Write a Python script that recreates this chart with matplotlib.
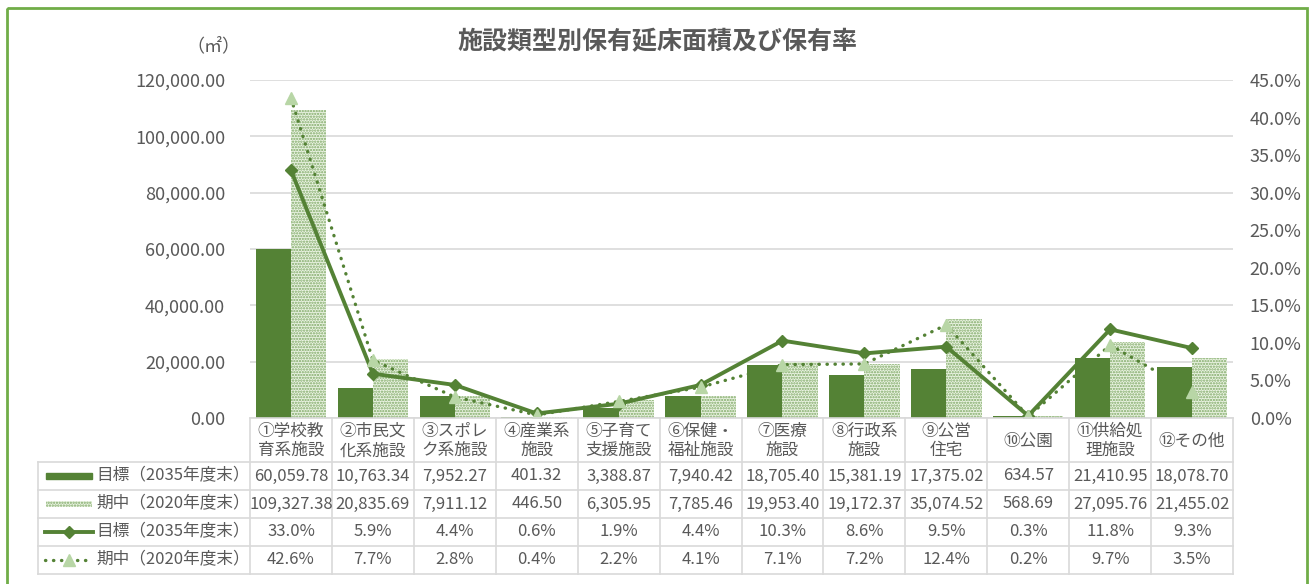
import numpy as np
import matplotlib
matplotlib.use("Agg")
import matplotlib.pyplot as plt
from matplotlib.patches import Rectangle
from matplotlib.lines import Line2D
from matplotlib.ticker import FuncFormatter, MultipleLocator

plt.rcParams['font.family'] = ['Noto Sans CJK JP', 'DejaVu Sans']
plt.rcParams['hatch.linewidth'] = 1.1

# data
categories = ["①学校教\n育系施設", "②市民文\n化系施設", "③スポレ\nク系施設", "④産業系\n施設",
              "⑤子育て\n支援施設", "⑥保健・\n福祉施設", "⑦医療\n施設", "⑧行政系\n施設",
              "⑨公営\n住宅", "⑩公園", "⑪供給処\n理施設", "⑫その他"]
target_area = [60059.78, 10763.34, 7952.27, 401.32, 3388.87, 7940.42,
               18705.40, 15381.19, 17375.02, 634.57, 21410.95, 18078.70]
mid_area = [109327.38, 20835.69, 7911.12, 446.50, 6305.95, 7785.46,
            19953.40, 19172.37, 35074.52, 568.69, 27095.76, 21455.02]
target_rate = [33.0, 5.9, 4.4, 0.6, 1.9, 4.4, 10.3, 8.6, 9.5, 0.3, 11.8, 9.3]
mid_rate = [42.6, 7.7, 2.8, 0.4, 2.2, 4.1, 7.1, 7.2, 12.4, 0.2, 9.7, 3.5]
series_names = ["目標（2035年度末）", "期中（2020年度末）"]

dark = "#548235"
light_face = "#eaf3e2"
light_hatch = "#7ea865"
tri_col = "#b8d6a6"
txt = "#595959"
grid = "#d9d9d9"

W, H = 1313, 584
fig = plt.figure(figsize=(W / 100, H / 100), dpi=100)

# plot area in pixels
left, right, top, bottom = 250, 1233, 80, 418
ax = fig.add_axes([left / W, 1 - bottom / H, (right - left) / W, (bottom - top) / H])
ax.patch.set_alpha(0)

x = np.arange(len(categories))
bw = 0.43
ax.bar(x - bw / 2, target_area, bw, color=dark, zorder=2)
ax.bar(x + bw / 2, mid_area, bw, facecolor=light_face, edgecolor=light_hatch,
       hatch="......", linewidth=0, zorder=2)
ax.set_xlim(-0.5, len(categories) - 0.5)
ax.set_ylim(0, 120000)
ax.yaxis.set_major_locator(MultipleLocator(20000))
ax.yaxis.set_major_formatter(FuncFormatter(lambda v, p: f"{v:,.2f}"))
ax.yaxis.grid(True, color=grid, lw=1.2, zorder=0)
ax.set_xticks([])
for s in ax.spines.values():
    s.set_visible(False)
ax.tick_params(axis="y", length=0, pad=18, labelsize=13, labelcolor=txt)

ax2 = ax.twinx()
ax2.plot(x, target_rate, color=dark, lw=2.8, marker="D", ms=6, mfc=dark, mec=dark, zorder=3)
ax2.plot(x, mid_rate, color=dark, lw=2.4, ls=(0, (0.1, 2.3)), dash_capstyle="round",
         marker="^", ms=9, mfc=tri_col, mec=tri_col, zorder=3)
ax2.set_ylim(0, 45)
ax2.yaxis.set_major_locator(MultipleLocator(5))
ax2.yaxis.set_major_formatter(FuncFormatter(lambda v, p: f"{v:.1f}%"))
for s in ax2.spines.values():
    s.set_visible(False)
ax2.tick_params(axis="y", length=0, pad=12, labelsize=13, labelcolor=txt)

# overlay in pixel coordinates: border, title, data table
ov = fig.add_axes([0, 0, 1, 1])
ov.set_xlim(0, W)
ov.set_ylim(H, 0)
ov.axis("off")
ov.patch.set_alpha(0)

ov.add_patch(Rectangle((7, 8), 1300, 590, fill=False, edgecolor="#70ad47", lw=2))
ov.text(657, 42, "施設類型別保有延床面積及び保有率", ha="center", va="center",
        fontsize=18, fontweight="bold", color=txt)
ov.text(213, 46, "（㎡）", ha="center", va="center", fontsize=13, color=txt)

cols = np.linspace(left, right, len(categories) + 1)
row_edges = [462, 490, 518, 546, 574]
tab_left = 38

# grid lines of the table
ov.plot([left, right], [bottom, bottom], color=grid, lw=1.2)
for ry in row_edges:
    ov.plot([tab_left, right], [ry, ry], color=grid, lw=1.2)
for cx in cols:
    ov.plot([cx, cx], [bottom, row_edges[-1]], color=grid, lw=1.2)
ov.plot([tab_left, tab_left], [row_edges[0], row_edges[-1]], color=grid, lw=1.2)

# header
for i, c in enumerate(categories):
    ov.text((cols[i] + cols[i + 1]) / 2, (bottom + row_edges[0]) / 2 + 1, c,
            ha="center", va="center", fontsize=12, color=txt, linespacing=1.2)

rows = [[f"{v:,.2f}" for v in target_area],
        [f"{v:,.2f}" for v in mid_area],
        [f"{v:.1f}%" for v in target_rate],
        [f"{v:.1f}%" for v in mid_rate]]
labels = [series_names[0], series_names[1], series_names[0], series_names[1]]

for r, vals in enumerate(rows):
    cy = (row_edges[r] + row_edges[r + 1]) / 2
    for i, t in enumerate(vals):
        ov.text((cols[i] + cols[i + 1]) / 2, cy, t, ha="center", va="center",
                fontsize=12, color=txt)
    ov.text(96, cy, labels[r], ha="left", va="center", fontsize=12, color=txt)

# legend keys inside the row labels
cy = [(row_edges[r] + row_edges[r + 1]) / 2 for r in range(4)]
ov.add_patch(Rectangle((46, cy[0] - 3), 46, 6, color=dark))
ov.add_patch(Rectangle((46, cy[1] - 3), 46, 6, facecolor=light_face, edgecolor=light_hatch,
                       hatch="......", lw=0))
ov.add_line(Line2D([45, 93], [cy[2], cy[2]], color=dark, lw=2.8))
ov.add_line(Line2D([69], [cy[2]], marker="D", ms=6, color=dark))
ov.add_line(Line2D([45, 93], [cy[3], cy[3]], color=dark, lw=2.4, ls=(0, (0.1, 2.3)),
                   dash_capstyle="round"))
ov.add_line(Line2D([69], [cy[3]], marker="^", ms=9, mfc=tri_col, mec=tri_col, ls="none"))

fig.savefig("out.png", dpi=100)
